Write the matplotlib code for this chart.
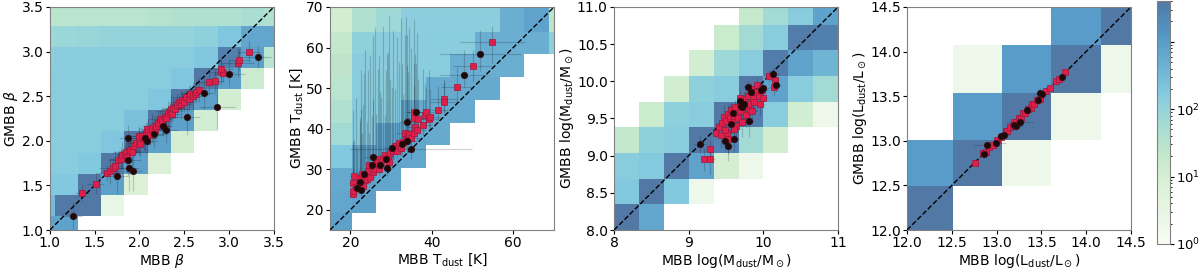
import numpy as np
import matplotlib
matplotlib.use('Agg')
import matplotlib.pyplot as plt
from matplotlib.colors import LogNorm

# ---- 2d histogram grids (bin edges and counts, rows from bottom) ----
beta_xedges = [0.793, 1.053, 1.313, 1.573, 1.833, 2.093, 2.353, 2.613, 2.873, 3.133, 3.393, 3.653]
beta_yedges = [0.920, 1.157, 1.394, 1.631, 1.868, 2.105, 2.342, 2.579, 2.816, 3.053, 3.290, 3.527]
beta_counts = [
    [800, 800, 0, 0, 0, 0, 0, 0, 0, 0, 0],
    [300, 4000, 4000, 3, 0, 0, 0, 0, 0, 0, 0],
    [180, 180, 4000, 900, 8, 0, 0, 0, 0, 0, 0],
    [150, 150, 180, 4000, 900, 8, 0, 0, 0, 0, 0],
    [150, 150, 150, 200, 4000, 900, 10, 0, 0, 0, 0],
    [150, 150, 150, 150, 250, 4000, 900, 12, 0, 0, 0],
    [150, 150, 150, 150, 150, 200, 4000, 900, 12, 0, 0],
    [150, 150, 150, 150, 150, 150, 200, 4000, 900, 15, 0],
    [130, 150, 150, 150, 150, 150, 150, 200, 3000, 900, 30],
    [70, 80, 90, 100, 100, 100, 100, 120, 200, 700, 700],
    [25, 30, 30, 30, 30, 35, 40, 40, 40, 50, 40],
]

tdust_xedges = [14.3, 20.35, 26.4, 32.45, 38.5, 44.55, 50.6, 56.65, 62.7, 68.75, 74.8]
tdust_yedges = [13.5, 19.1, 24.7, 30.3, 35.9, 41.5, 47.1, 52.7, 58.3, 63.9, 69.5, 75.1]
tdust_counts = [
    [900, 0, 0, 0, 0, 0, 0, 0, 0, 0],
    [700, 900, 0, 0, 0, 0, 0, 0, 0, 0],
    [600, 800, 700, 0, 0, 0, 0, 0, 0, 0],
    [180, 700, 800, 700, 0, 0, 0, 0, 0, 0],
    [60, 160, 700, 700, 600, 0, 0, 0, 0, 0],
    [40, 160, 160, 600, 600, 600, 0, 0, 0, 0],
    [30, 150, 150, 150, 600, 600, 600, 0, 0, 0],
    [25, 140, 140, 140, 140, 500, 500, 500, 0, 0],
    [20, 120, 140, 140, 140, 140, 500, 500, 500, 120],
    [12, 40, 70, 130, 130, 130, 130, 500, 800, 25],
    [10, 30, 50, 100, 100, 100, 100, 400, 700, 20],
]

mdust_xedges = [8.0, 8.333, 8.667, 9.0, 9.333, 9.667, 10.0, 10.333, 10.667, 11.0]
mdust_yedges = [8.0, 8.345, 8.69, 9.035, 9.38, 9.725, 10.07, 10.415, 10.76, 11.105]
mdust_counts = [
    [4000, 700, 0, 0, 0, 0, 0, 0, 0],
    [180, 4000, 180, 2, 0, 0, 0, 0, 0],
    [150, 170, 4000, 800, 10, 2, 0, 0, 0],
    [20, 120, 150, 4000, 2500, 60, 12, 0, 0],
    [0, 15, 120, 150, 4000, 3000, 150, 12, 2],
    [0, 0, 12, 120, 150, 4000, 800, 150, 60],
    [0, 0, 0, 12, 70, 150, 3500, 800, 400],
    [0, 0, 0, 0, 15, 60, 150, 3500, 3000],
    [0, 0, 0, 0, 0, 18, 60, 150, 800],
]

ldust_xedges = [11.96, 12.51, 13.06, 13.61, 14.16, 14.71]
ldust_yedges = [11.96, 12.49, 13.01, 13.54, 14.07, 14.60]
ldust_counts = [
    [4000, 0, 0, 0, 0],
    [1000, 4000, 2, 0, 0],
    [0, 1000, 4000, 2, 0],
    [0, 2, 1000, 4000, 2],
    [0, 0, 0, 1000, 4000],
]

# ---- individual sources: red squares and black circles ----
beta_red_x = [1.36, 1.51, 1.64, 1.67, 1.70, 1.73, 1.76, 1.79, 1.81, 1.84,
              1.85, 1.86, 1.88, 1.90, 1.92, 1.94, 1.96, 1.99, 2.00, 2.01,
              2.03, 2.05, 2.07, 2.08, 2.10, 2.12, 2.14, 2.17, 2.19, 2.21,
              2.23, 2.25, 2.28, 2.30, 2.32, 2.34, 2.35, 2.36, 2.38, 2.40,
              2.42, 2.44, 2.46, 2.48, 2.50, 2.52, 2.55, 2.57, 2.60, 2.62,
              2.63, 2.66, 2.78, 2.84, 2.91, 2.93, 2.91, 3.10, 3.11, 3.22]
beta_red_y = [1.42, 1.52, 1.64, 1.66, 1.70, 1.72, 1.78, 1.80, 1.84, 1.85,
              1.87, 1.82, 1.88, 1.90, 1.87, 1.94, 1.97, 1.99, 2.05, 1.96,
              2.05, 2.03, 2.09, 2.13, 2.10, 2.07, 2.14, 2.12, 2.17, 2.20,
              2.24, 2.22, 2.27, 2.25, 2.31, 2.33, 2.36, 2.30, 2.37, 2.36,
              2.40, 2.43, 2.41, 2.46, 2.44, 2.49, 2.47, 2.52, 2.50, 2.53,
              2.55, 2.57, 2.66, 2.67, 2.77, 2.76, 2.81, 2.87, 2.91, 3.00]
beta_red_xerr = [0.08, 0.10, 0.12, 0.09, 0.15, 0.07, 0.11, 0.13, 0.06, 0.10,
                 0.14, 0.08, 0.12, 0.09, 0.16, 0.07, 0.10, 0.13, 0.08, 0.11,
                 0.15, 0.09, 0.12, 0.07, 0.10, 0.14, 0.08, 0.11, 0.16, 0.09,
                 0.12, 0.07, 0.13, 0.10, 0.08, 0.15, 0.11, 0.09, 0.12, 0.14,
                 0.07, 0.10, 0.13, 0.08, 0.11, 0.16, 0.09, 0.12, 0.10, 0.14,
                 0.08, 0.11, 0.12, 0.10, 0.15, 0.09, 0.13, 0.18, 0.11, 0.12]
beta_red_yerr = [0.10, 0.12, 0.09, 0.14, 0.11, 0.16, 0.08, 0.12, 0.15, 0.10,
                 0.13, 0.18, 0.09, 0.11, 0.14, 0.08, 0.12, 0.16, 0.10, 0.13,
                 0.09, 0.15, 0.11, 0.08, 0.14, 0.12, 0.17, 0.10, 0.09, 0.13,
                 0.11, 0.15, 0.08, 0.12, 0.14, 0.10, 0.16, 0.09, 0.12, 0.11,
                 0.13, 0.08, 0.15, 0.10, 0.12, 0.09, 0.14, 0.11, 0.16, 0.10,
                 0.12, 0.13, 0.15, 0.12, 0.14, 0.10, 0.12, 0.16, 0.13, 0.12]
beta_blk_x = [1.26, 1.75, 1.87, 1.87, 1.88, 1.93, 2.06, 2.09, 2.16, 2.26, 2.30, 2.53, 2.72, 2.87, 3.00, 3.32]
beta_blk_y = [1.16, 1.61, 1.78, 2.03, 1.69, 1.66, 2.03, 2.00, 2.08, 2.17, 2.12, 2.27, 2.54, 2.38, 2.75, 2.94]
beta_blk_xerr = [0.10, 0.12, 0.15, 0.10, 0.12, 0.10, 0.14, 0.12, 0.15, 0.10, 0.13, 0.15, 0.12, 0.20, 0.18, 0.15]
beta_blk_yerr = [0.15, 0.20, 0.18, 0.15, 0.25, 0.22, 0.15, 0.14, 0.16, 0.12, 0.15, 0.20, 0.18, 0.25, 0.15, 0.12]

tdust_red_x = [20.6, 20.7, 20.6, 20.9, 21.5, 22.3, 22.5, 22.8, 23.0, 23.5,
               24.0, 24.3, 24.6, 24.8, 25.6, 26.0, 26.3, 26.8, 27.0, 27.5,
               28.0, 28.6, 29.3, 29.5, 29.8, 30.5, 31.0, 31.4, 31.9, 32.5,
               33.0, 33.3, 33.6, 34.1, 34.5, 35.0, 35.5, 35.7, 35.7, 35.8,
               36.3, 36.6, 37.9, 38.2, 38.6, 39.2, 39.6, 41.4, 42.9, 43.1,
               46.2, 50.1, 54.8]
tdust_red_y = [23.9, 24.6, 26.5, 28.2, 25.5, 27.8, 26.5, 28.9, 25.8, 27.4,
               27.7, 29.5, 31.0, 28.0, 29.4, 30.0, 31.5, 32.6, 30.0, 31.8,
               32.4, 33.4, 33.0, 31.8, 34.1, 34.4, 35.8, 34.6, 36.4, 35.3,
               36.6, 39.0, 37.5, 38.0, 38.7, 37.8, 39.0, 42.7, 44.0, 40.4,
               39.6, 42.3, 40.8, 43.3, 44.1, 42.4, 42.8, 44.5, 47.3, 46.6,
               50.2, 55.4, 61.3]
tdust_red_xerr = [0.8, 1.0, 0.9, 1.2, 1.0, 1.1, 0.9, 1.3, 1.0, 1.2,
                  1.1, 1.4, 1.0, 1.2, 1.5, 1.1, 1.3, 1.6, 1.2, 1.4,
                  1.5, 1.3, 1.7, 1.2, 1.5, 1.6, 1.4, 1.8, 1.5, 1.7,
                  1.6, 1.9, 1.5, 1.8, 1.7, 2.0, 1.6, 2.2, 1.9, 1.8,
                  2.0, 2.4, 2.1, 2.3, 2.5, 2.2, 2.4, 3.0, 3.2, 3.5,
                  4.0, 5.0, 8.0]
tdust_red_ylo = [1.0, 1.2, 1.1, 1.3, 1.0, 1.4, 1.2, 1.5, 1.1, 1.3,
                 1.4, 1.6, 1.5, 1.3, 1.7, 1.5, 1.8, 1.6, 1.4, 1.9,
                 1.7, 2.0, 1.8, 1.6, 2.1, 1.9, 2.2, 1.8, 2.3, 2.0,
                 2.2, 2.4, 2.1, 2.3, 2.5, 2.2, 2.4, 2.6, 2.8, 2.3,
                 2.5, 2.7, 2.4, 2.8, 3.0, 2.6, 2.8, 3.0, 3.2, 3.0,
                 3.5, 4.0, 5.0]
tdust_red_yhi = [6.0, 12.0, 18.0, 9.0, 22.0, 15.0, 28.0, 10.0, 20.0, 32.0,
                 14.0, 25.0, 8.0, 30.0, 18.0, 35.0, 12.0, 22.0, 28.0, 16.0,
                 33.0, 10.0, 26.0, 36.0, 18.0, 30.0, 14.0, 28.0, 20.0, 32.0,
                 12.0, 24.0, 30.0, 16.0, 26.0, 22.0, 28.0, 8.0, 12.0, 18.0,
                 24.0, 10.0, 14.0, 8.0, 6.0, 12.0, 7.0, 6.0, 5.0, 5.0,
                 5.0, 4.0, 4.0]
tdust_blk_x = [21.7, 22.6, 22.4, 23.4, 25.3, 25.5, 27.2, 28.8, 29.0, 30.2, 32.7, 33.8, 33.9, 34.8, 36.2, 47.8, 51.8]
tdust_blk_y = [25.3, 24.9, 26.8, 28.7, 31.0, 32.9, 31.0, 32.5, 30.4, 35.3, 36.2, 37.0, 41.6, 34.9, 44.2, 53.3, 58.3]
tdust_blk_xerr = [1.0, 1.0, 1.2, 1.5, 1.5, 2.0, 1.5, 2.0, 1.5, 2.0, 2.0, 2.5, 2.0, 15.0, 2.5, 6.0, 10.0]
tdust_blk_ylo = [1.5, 1.5, 1.5, 2.0, 2.0, 2.0, 2.0, 2.5, 2.0, 2.5, 2.5, 3.0, 3.0, 2.5, 3.0, 3.0, 4.0]
tdust_blk_yhi = [10.0, 20.0, 15.0, 25.0, 12.0, 30.0, 18.0, 22.0, 28.0, 15.0, 20.0, 26.0, 14.0, 10.0, 12.0, 6.0, 6.0]

mdust_red_x = [9.21, 9.29, 9.28, 9.36, 9.43, 9.51, 9.40, 9.45, 9.47, 9.50,
               9.53, 9.55, 9.57, 9.58, 9.60, 9.62, 9.63, 9.65, 9.66, 9.68,
               9.70, 9.72, 9.74, 9.75, 9.77, 9.79, 9.80, 9.82, 9.84, 9.86,
               9.88, 9.90, 9.92, 9.94, 9.96, 9.98, 10.00, 10.08, 10.15, 10.14,
               9.52, 9.48, 9.60, 9.69, 9.85]
mdust_red_y = [8.95, 8.95, 9.09, 9.31, 9.28, 9.30, 9.39, 9.44, 9.52, 9.47,
               9.56, 9.50, 9.62, 9.45, 9.54, 9.65, 9.40, 9.58, 9.50, 9.70,
               9.60, 9.45, 9.76, 9.65, 9.55, 9.80, 9.70, 9.62, 9.90, 9.78,
               9.72, 9.85, 9.95, 9.80, 9.70, 9.88, 9.78, 10.07, 10.02, 9.92,
               9.22, 9.35, 9.36, 9.78, 9.60]
mdust_red_xerr = [0.05, 0.06, 0.04, 0.08, 0.05, 0.07, 0.06, 0.09, 0.05, 0.07,
                  0.06, 0.08, 0.05, 0.07, 0.06, 0.09, 0.05, 0.07, 0.08, 0.06,
                  0.05, 0.07, 0.06, 0.08, 0.05, 0.07, 0.06, 0.09, 0.05, 0.07,
                  0.06, 0.08, 0.05, 0.07, 0.06, 0.08, 0.05, 0.07, 0.06, 0.05,
                  0.07, 0.06, 0.08, 0.05, 0.07]
mdust_red_yerr = [0.15, 0.20, 0.12, 0.10, 0.18, 0.14, 0.08, 0.12, 0.16, 0.10,
                  0.14, 0.20, 0.09, 0.15, 0.12, 0.10, 0.22, 0.13, 0.18, 0.08,
                  0.14, 0.20, 0.10, 0.12, 0.18, 0.09, 0.14, 0.16, 0.08, 0.12,
                  0.15, 0.10, 0.09, 0.13, 0.17, 0.10, 0.12, 0.08, 0.10, 0.12,
                  0.20, 0.15, 0.18, 0.10, 0.16]
mdust_blk_x = [9.15, 9.52, 9.49, 9.61, 9.56, 9.59, 9.70, 9.69, 9.72, 9.81, 9.84, 9.79, 10.00, 9.97, 10.13, 10.17, 9.74]
mdust_blk_y = [9.16, 9.13, 9.20, 9.23, 9.42, 9.57, 9.67, 9.73, 9.66, 9.47, 9.85, 9.93, 9.91, 9.88, 10.10, 9.95, 9.70]
mdust_blk_xerr = [0.08, 0.06, 0.07, 0.06, 0.08, 0.07, 0.06, 0.05, 0.07, 0.06, 0.08, 0.06, 0.07, 0.06, 0.08, 0.07, 0.06]
mdust_blk_yerr = [0.12, 0.20, 0.15, 0.18, 0.12, 0.10, 0.08, 0.09, 0.10, 0.22, 0.10, 0.08, 0.10, 0.09, 0.08, 0.10, 0.09]

ldust_red_x = [12.76, 12.85, 12.88, 12.92, 12.96, 13.00, 13.05, 13.10, 13.12, 13.15,
               13.18, 13.20, 13.22, 13.25, 13.27, 13.30, 13.32, 13.35, 13.38, 13.40,
               13.42, 13.45, 13.48, 13.55, 13.60, 13.66, 13.70, 13.76]
ldust_red_y = [12.75, 12.86, 12.87, 12.93, 12.95, 13.01, 13.04, 13.11, 13.11, 13.16,
               13.17, 13.21, 13.21, 13.26, 13.26, 13.31, 13.31, 13.36, 13.37, 13.41,
               13.41, 13.46, 13.47, 13.56, 13.59, 13.67, 13.69, 13.77]
ldust_red_xerr = [0.02, 0.03, 0.04, 0.03, 0.05, 0.03, 0.04, 0.03, 0.05, 0.03,
                  0.04, 0.03, 0.05, 0.03, 0.04, 0.03, 0.05, 0.04, 0.03, 0.04,
                  0.05, 0.03, 0.04, 0.03, 0.04, 0.03, 0.04, 0.03]
ldust_red_yerr = [0.02, 0.03, 0.03, 0.04, 0.03, 0.04, 0.03, 0.04, 0.03, 0.04,
                  0.03, 0.04, 0.03, 0.04, 0.03, 0.04, 0.03, 0.04, 0.03, 0.04,
                  0.03, 0.04, 0.03, 0.04, 0.03, 0.04, 0.03, 0.03]
ldust_blk_x = [12.86, 12.89, 12.99, 13.05, 13.08, 13.19, 13.22, 13.26, 13.34, 13.46, 13.49, 13.51, 13.73]
ldust_blk_y = [12.85, 12.95, 12.97, 13.05, 13.06, 13.18, 13.17, 13.21, 13.34, 13.46, 13.54, 13.52, 13.71]
ldust_blk_xerr = [0.05, 0.15, 0.12, 0.05, 0.06, 0.06, 0.08, 0.15, 0.05, 0.05, 0.06, 0.05, 0.04]
ldust_blk_yerr = [0.04, 0.05, 0.05, 0.04, 0.05, 0.04, 0.05, 0.05, 0.04, 0.04, 0.05, 0.05, 0.04]

# axis limits, ticks and labels for each panel
lims = [(1.0, 3.5), (15, 70), (8, 11), (12.0, 14.5)]
xticks = [[1.0, 1.5, 2.0, 2.5, 3.0, 3.5], [20, 40, 60], [8, 9, 10, 11],
          [12.0, 12.5, 13.0, 13.5, 14.0, 14.5]]
yticks = [[1.0, 1.5, 2.0, 2.5, 3.0, 3.5], [20, 30, 40, 50, 60, 70],
          [8.0, 8.5, 9.0, 9.5, 10.0, 10.5, 11.0], [12.0, 12.5, 13.0, 13.5, 14.0, 14.5]]
xlabels = [r'MBB $\beta$', r'MBB T$_{\rm dust}$ [K]',
           r'MBB log(M$_{\rm dust}$/M$_\odot$)', r'MBB log(L$_{\rm dust}$/L$_\odot$)']
ylabels = [r'GMBB $\beta$', r'GMBB T$_{\rm dust}$ [K]',
           r'GMBB log(M$_{\rm dust}$/M$_\odot$)', r'GMBB log(L$_{\rm dust}$/L$_\odot$)']
xfmt = ['%.1f', '%d', '%d', '%.1f']
yfmt = ['%.1f', '%d', '%.1f', '%.1f']

# colourbar ticks (the 10^3 tick carries no label in the original)
cbar_ticks = [1, 10, 100, 1000]
cbar_labels = [r'$10^0$', r'$10^1$', r'$10^2$', '']


def DrawPanel(ax, xe, ye, counts, lim, red, blk):
    """
    One comparison panel: log-scaled 2d histogram, 1:1 line and sources.
    """
    c = np.ma.masked_equal(np.array(counts, dtype=float), 0)
    mesh = ax.pcolormesh(xe, ye, c, cmap='GnBu', norm=LogNorm(vmin=1, vmax=4000),
                         alpha=0.7, shading='flat', linewidth=0, zorder=1)

    rx, ry, rxe, rye = red
    bx, by, bxe, bye = blk
    ax.errorbar(rx, ry, xerr=rxe, yerr=rye, fmt='none', ecolor='k',
                elinewidth=0.8, alpha=0.18, zorder=2)
    ax.errorbar(bx, by, xerr=bxe, yerr=bye, fmt='none', ecolor='k',
                elinewidth=0.8, alpha=0.18, zorder=2)

    # 1:1 line
    ax.plot(lim, lim, 'k--', lw=1.0, zorder=3)

    ax.plot(rx, ry, 's', ms=4.0, mfc='#dc1f4b', mec='#a3173a', mew=0.5, zorder=4)
    ax.plot(bx, by, 'o', ms=4.6, mfc='#1a0a0a', mec='#3a0a10', mew=0.5, zorder=5)

    ax.set_xlim(lim)
    ax.set_ylim(lim)
    return mesh


fig = plt.figure(figsize=(12, 2.72), dpi=100)

lefts = [0.0415, 0.275, 0.5117, 0.7558]
hists = [(beta_xedges, beta_yedges, beta_counts),
         (tdust_xedges, tdust_yedges, tdust_counts),
         (mdust_xedges, mdust_yedges, mdust_counts),
         (ldust_xedges, ldust_yedges, ldust_counts)]
reds = [(beta_red_x, beta_red_y, beta_red_xerr, beta_red_yerr),
        (tdust_red_x, tdust_red_y, tdust_red_xerr, [tdust_red_ylo, tdust_red_yhi]),
        (mdust_red_x, mdust_red_y, mdust_red_xerr, mdust_red_yerr),
        (ldust_red_x, ldust_red_y, ldust_red_xerr, ldust_red_yerr)]
blks = [(beta_blk_x, beta_blk_y, beta_blk_xerr, beta_blk_yerr),
        (tdust_blk_x, tdust_blk_y, tdust_blk_xerr, [tdust_blk_ylo, tdust_blk_yhi]),
        (mdust_blk_x, mdust_blk_y, mdust_blk_xerr, mdust_blk_yerr),
        (ldust_blk_x, ldust_blk_y, ldust_blk_xerr, ldust_blk_yerr)]

for i in range(4):
    ax = fig.add_axes([lefts[i], 0.1544, 0.1867, 0.82])
    xe, ye, cts = hists[i]
    mesh = DrawPanel(ax, xe, ye, cts, lims[i], reds[i], blks[i])

    ax.set_xticks(xticks[i])
    ax.set_yticks(yticks[i])
    ax.xaxis.set_major_formatter(matplotlib.ticker.FormatStrFormatter(xfmt[i]))
    ax.yaxis.set_major_formatter(matplotlib.ticker.FormatStrFormatter(yfmt[i]))
    ax.tick_params(labelsize=10, length=3, width=0.8, pad=1.5)
    ax.set_xlabel(xlabels[i], fontsize=10, labelpad=1)
    ax.set_ylabel(ylabels[i], fontsize=10, labelpad=1)
    for s in ax.spines.values():
        s.set_color('0.5')

# colourbar on the far right
cax = fig.add_axes([0.964, 0.103, 0.011, 0.893])
cb = fig.colorbar(mesh, cax=cax)
cb.set_ticks(cbar_ticks)
cb.set_ticklabels(cbar_labels)
cb.outline.set_edgecolor('0.5')
cb.ax.tick_params(labelsize=9.5, length=3, width=0.8, pad=1.5)
cb.ax.tick_params(which='minor', length=1.5, width=0.6)

fig.savefig('out.png', dpi=100)
